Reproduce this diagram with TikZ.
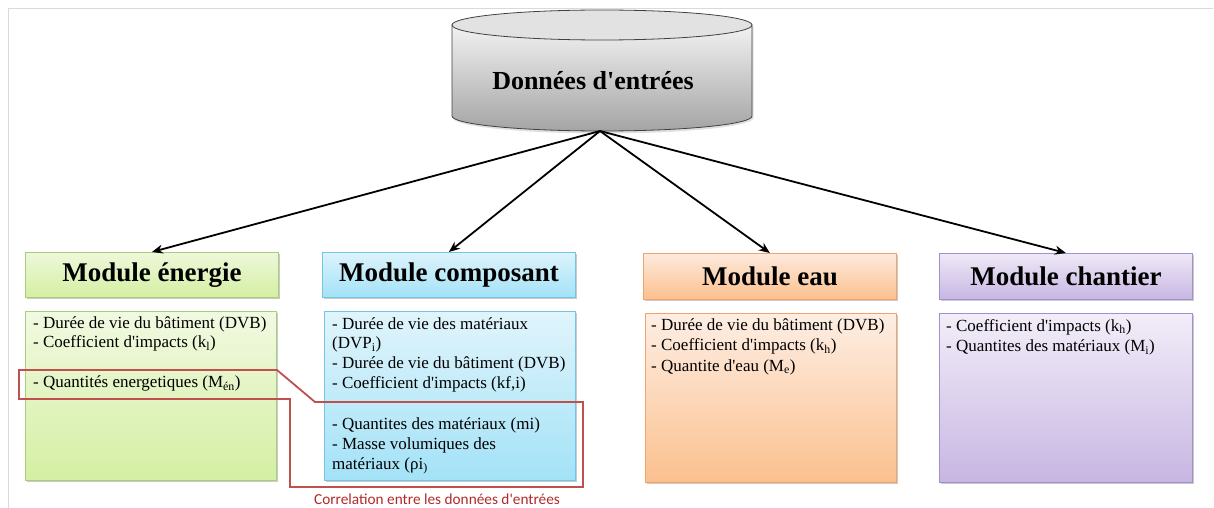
\documentclass[tikz,border=0pt]{standalone}
\usepackage{fontspec}
\setmainfont{Liberation Serif}
\newfontfamily\bodyserif{Liberation Serif}
\newfontfamily\capfont{Carlito}
\newcommand\apos{\textquotesingle}
\usetikzlibrary{arrows.meta,shadows}
\definecolor{cylTop}{HTML}{F2F2F2}
\definecolor{cylBot}{HTML}{A4A4A4}
\definecolor{cylCap}{HTML}{E2E2E2}
\definecolor{cylLine}{HTML}{404040}
\definecolor{gEa}{HTML}{EEF8DA}
\definecolor{gEb}{HTML}{D4EFA2}
\definecolor{bdE}{HTML}{A9CC7E}
\definecolor{gCa}{HTML}{DDF3FB}
\definecolor{gCb}{HTML}{A3E2F7}
\definecolor{bdC}{HTML}{74C4E4}
\definecolor{gWa}{HTML}{FDEADD}
\definecolor{gWb}{HTML}{FBC08E}
\definecolor{bdW}{HTML}{F1A36A}
\definecolor{gKa}{HTML}{EFE9F7}
\definecolor{gKb}{HTML}{C7B6E2}
\definecolor{bdK}{HTML}{A190CB}
\definecolor{corrRed}{HTML}{C0504D}
\definecolor{capRed}{HTML}{B02A2A}
\definecolor{frameGray}{HTML}{DADADA}
\begin{document}
\begin{tikzpicture}[x=1pt,y=-1pt,
  boxbase/.style n args={3}{draw=#1, top color=#2, bottom color=#3, line width=0.8pt,
    inner sep=0pt, anchor=north west,
    drop shadow={shadow xshift=1.5pt, shadow yshift=-1.5pt, opacity=0.35, fill=black!60}},
  hdrbox/.style n args={3}{boxbase={#1}{#2}{#3}, minimum width=253pt, minimum height=45pt,
    font=\fontsize{27}{30}\bfseries\selectfont},
  bodybox/.style n args={3}{boxbase={#1}{#2}{#3}, minimum height=169pt},
  bodytext/.style={anchor=north west, inner sep=0pt, align=left,
    font=\bodyserif\fontsize{17}{19.7}\selectfont},
  arr/.style={-{Stealth[length=11pt,width=9pt]}, line width=1.8pt, black},
  corr/.style={draw=corrRed, line width=1.8pt, line join=miter}
]
\useasboundingbox (0,0) rectangle (1214,508);
% frame
\draw[frameGray, line width=1pt] (8,508) -- (8,9) -- (1213,9);

% cylinder
\fill[black, opacity=0.12] (453,27) -- (453,118) .. controls (453,126.3) and (520.2,133.5) .. (603,133.5)
  .. controls (685.8,133.5) and (753.5,126.3) .. (753.5,118) -- (753.5,27) -- cycle;
\shade[top color=cylTop, bottom color=cylBot, draw=cylLine, line width=0.8pt]
  (452,25) -- (452,116) .. controls (452,124.3) and (519.2,131) .. (602,131)
  .. controls (684.8,131) and (752,124.3) .. (752,116) -- (752,25) -- cycle;
\draw[cylLine, line width=0.8pt, fill=cylCap] (602,25) ellipse [x radius=150, y radius=15];
\node[font=\fontsize{26}{30}\bfseries\selectfont, inner sep=0pt] (data) at (593,81) {Données d\apos entrées};
\coordinate (dbot) at (600,131);

% headers
\node[hdrbox={bdE}{gEa}{gEb}] (hE) at (25,252) {Module énergie};
\node[hdrbox={bdC}{gCa}{gCb}] (hC) at (322,252) {Module composant};
\node[hdrbox={bdW}{gWa}{gWb}, minimum height=46pt] (hW) at (643,253) {Module eau};
\node[hdrbox={bdK}{gKa}{gKb}, minimum height=46pt] (hK) at (939,253) {Module chantier};

% bodies
\node[bodybox={bdE}{gEa!80!white}{gEb}, minimum width=251pt] (bE) at (25,311) {};
\node[bodybox={bdC}{gCa!90!white}{gCb}, minimum width=251pt] (bC) at (324,311) {};
\node[bodybox={bdW}{gWa!80!white}{gWb}, minimum width=251pt] (bW) at (645,313) {};
\node[bodybox={bdK}{gKa!80!white}{gKb}, minimum width=253pt] (bK) at (939,313) {};

\node[bodytext] (tE) at (33,316) {- Durée de vie du bâtiment (DVB)\\- Coefficient d\apos impacts (k\textsubscript{l})\\[20pt]- Quantités energetiques (M\textsubscript{én})};
\node[bodytext] (tC) at (332,317) {- Durée de vie des matériaux\\(DVP\textsubscript{i})\\- Durée de vie du bâtiment (DVB)\\- Coefficient d\apos impacts (kf,i)\\[22pt]- Quantites des matériaux (mi)\\- Masse volumiques des\\matériaux (ρi\textsubscript{)}};
\node[bodytext, font=\bodyserif\fontsize{17}{20.5}\selectfont] (tW) at (651,318) {- Durée de vie du bâtiment (DVB)\\- Coefficient d\apos impacts (k\textsubscript{h})\\- Quantite d\apos eau (M\textsubscript{e})};
\node[bodytext, font=\bodyserif\fontsize{17}{20.5}\selectfont] (tK) at (946,319) {- Coefficient d\apos impacts (k\textsubscript{h})\\- Quantites des matériaux (M\textsubscript{i})};

% arrows
\draw[arr] (dbot) -- (hE.north);
\draw[arr] (dbot) -- (hC.north);
\draw[arr] (dbot) -- (hW.north);
\draw[arr] (dbot) -- (hK.north);

% correlation outline
\draw[corr] (19,370) -- (277,370) -- (315,402) -- (583,402) -- (583,487) -- (290,487) -- (290,399) -- (19,399) -- cycle;
\node[font=\capfont\fontsize{15.3}{18}\selectfont, text=capRed, inner sep=0pt] (cap) at (437,499) {Correlation entre les données d\apos entrées};
\end{tikzpicture}
\end{document}
